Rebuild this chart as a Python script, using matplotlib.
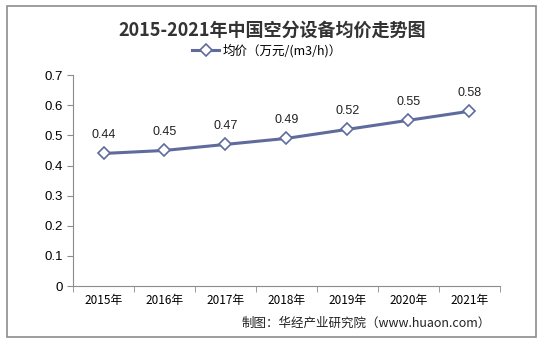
import matplotlib.pyplot as plt
from matplotlib.patches import Rectangle

plt.rcParams['font.family'] = ['Noto Sans CJK SC', 'DejaVu Sans']

years = ['2015年', '2016年', '2017年', '2018年', '2019年', '2020年', '2021年']
price = [0.44, 0.45, 0.47, 0.49, 0.52, 0.55, 0.58]
yticks = [0, 0.1, 0.2, 0.3, 0.4, 0.5, 0.6, 0.7]
ytick_labels = ['0', '0.1', '0.2', '0.3', '0.4', '0.5', '0.6', '0.7']

line_color = '#5F6B9C'
grey = '#8C8C8C'

fig = plt.figure(figsize=(5.45, 3.43), dpi=100)
ax = fig.add_axes([0.134, 0.166, 0.783, 0.615])

x = list(range(len(years)))
ax.plot(x, price, '-D', color=line_color, lw=2.2, markersize=6.5,
        markerfacecolor='white', markeredgecolor=line_color, markeredgewidth=1.2,
        label='均价（万元/(m3/h)）')
for xi, v in zip(x, price):
    ax.annotate(f'{v:.2f}', (xi, v), xytext=(0, 9), textcoords='offset points',
                ha='center', va='bottom', fontsize=9, color='#222222',
                family=['Liberation Sans', 'DejaVu Sans'])

ax.set_xlim(-0.5, len(years) - 0.5)
ax.set_ylim(0, 0.7)
ax.set_yticks(yticks)
ax.set_yticklabels(ytick_labels, family=['Liberation Sans', 'DejaVu Sans'], fontsize=9.5)
ax.set_xticks(x)
ax.set_xticklabels(years, fontsize=8.5)
ax.set_xticks([i - 0.5 for i in range(len(years) + 1)], minor=True)
ax.tick_params(axis='x', which='major', length=0, pad=6)
ax.tick_params(axis='x', which='minor', length=4, color=grey)
ax.tick_params(axis='y', length=4, color=grey, pad=3)

for s in ['top', 'right']:
    ax.spines[s].set_visible(False)
for s in ['left', 'bottom']:
    ax.spines[s].set_color(grey)

fig.text(0.5, 0.912, '2015-2021年中国空分设备均价走势图', ha='center', va='center',
         fontsize=13, fontweight='bold', color='#333333')
fig.legend(loc='center', bbox_to_anchor=(0.49, 0.853), frameon=False, fontsize=9,
           handlelength=2.2, handletextpad=0.3)

fig.text(0.9, 0.058, '制图：华经产业研究院（www.huaon.com）', ha='right', va='center',
         fontsize=9, color='#222222')

fig.patches.append(Rectangle((0.013, 0.018), 0.971, 0.965, transform=fig.transFigure,
                             fill=False, edgecolor=grey, lw=1.2))

fig.savefig('out.png', dpi=100)
